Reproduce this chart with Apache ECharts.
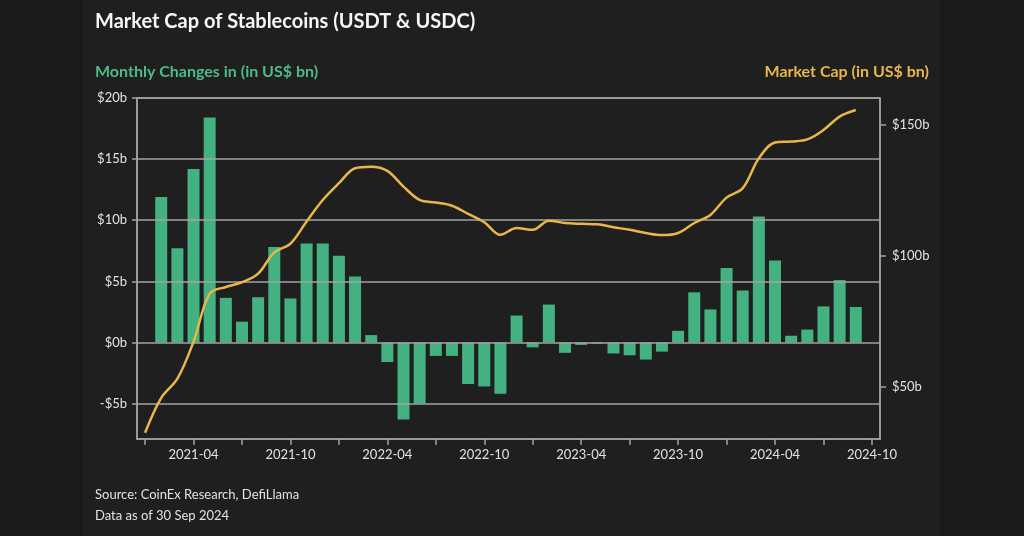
<!DOCTYPE html>
<html>
<head>
<meta charset="utf-8">
<script src="https://cdn.jsdelivr.net/npm/echarts@6/dist/echarts.min.js"></script>
<style>
html,body{margin:0;padding:0;background:#1a1a1a;}
#c{width:1024px;height:536px;}
</style>
</head>
<body>
<div id="c"></div>
<script>
// Months (line covers all; bars start at 2021-02)
var months = ['2021-01','2021-02','2021-03','2021-04','2021-05','2021-06','2021-07','2021-08','2021-09','2021-10','2021-11','2021-12',
  '2022-01','2022-02','2022-03','2022-04','2022-05','2022-06','2022-07','2022-08','2022-09','2022-10','2022-11','2022-12',
  '2023-01','2023-02','2023-03','2023-04','2023-05','2023-06','2023-07','2023-08','2023-09','2023-10','2023-11','2023-12',
  '2024-01','2024-02','2024-03','2024-04','2024-05','2024-06','2024-07','2024-08','2024-09'];
// Monthly changes (US$ bn)
var monthlyChange = [null,11.9,7.7,14.2,18.4,3.65,1.7,3.7,7.8,3.6,8.1,8.1,
  7.1,5.4,0.6,-1.6,-6.3,-5.0,-1.1,-1.1,-3.4,-3.6,-4.2,2.2,
  -0.4,3.1,-0.85,-0.2,-0.1,-0.9,-1.05,-1.4,-0.75,0.95,4.1,2.7,
  6.1,4.25,10.3,6.7,0.55,1.05,2.95,5.1,2.9];
// Market cap (US$ bn)
var marketCap = [32.6,45.9,53.2,67.3,85.7,88.2,90.0,93.3,101.4,104.7,113.2,121.4,
  127.8,133.5,134.1,132.5,126.5,121.4,120.4,119.2,116.1,112.9,108.1,110.7,
  110.0,113.5,112.6,112.3,112.1,111.0,110.0,108.8,108.0,108.8,112.6,115.7,
  122.3,125.9,137.3,143.3,143.7,144.5,148.1,153.2,155.7];
// Tick labels
var xTickMonths = ['2021-01','2021-04','2021-07','2021-10','2022-01','2022-04','2022-07','2022-10','2023-01','2023-04','2023-07','2023-10','2024-01','2024-04','2024-07','2024-10'];
var xLabelMonths = ['2021-04','2021-10','2022-04','2022-10','2023-04','2023-10','2024-04','2024-10'];
var leftTicks = [-5,0,5,10,15,20];
var rightTicks = [50,100,150];

function mIdx(s){var p=s.split('-');return (+p[0]-2021)*12+(+p[1]-1);}
function idxLabel(v){var y=2021+Math.floor(v/12);var m=v%12+1;return y+'-'+(m<10?'0'+m:m);}

var barData = [], lineData = [];
months.forEach(function(m,i){
  var x = mIdx(m);
  if (monthlyChange[i] !== null) barData.push([x, monthlyChange[i]]);
  lineData.push([x, marketCap[i]]);
});

var gridColor = '#a3a3a3';
var textColor = '#e2e2e2';
var FONT = 'Lato';

var chart = echarts.init(document.getElementById('c'));
chart.setOption({
  backgroundColor: '#1a1a1a',
  animation: false,
  graphic: [
    {type:'rect', shape:{x:83,y:0,width:857,height:536}, style:{fill:'#1f1f1f'}, z:-10, silent:true},
    {type:'text', left:95, top:12, style:{text:'Market Cap of Stablecoins (USDT & USDC)', fill:'#f6f6f6', font:'bold 20px '+FONT}},
    {type:'text', left:95, top:64, style:{text:'Monthly Changes in (in US$ bn)', fill:'#4dba88', font:'bold 16px '+FONT}},
    {type:'text', right:95, top:64, style:{text:'Market Cap (in US$ bn)', fill:'#e8b74a', font:'bold 16px '+FONT}},
    {type:'text', left:95, top:488, style:{text:'Source: CoinEx Research, DefiLlama', fill:textColor, font:'13px '+FONT}},
    {type:'text', left:95, top:509, style:{text:'Data as of 30 Sep 2024', fill:textColor, font:'13px '+FONT}}
  ],
  grid: {left:137, right:144, top:98, bottom:97, show:true, borderColor:gridColor, borderWidth:1.5, backgroundColor:'transparent'},
  xAxis: {
    type:'value', min:-0.5, max:45.5, position:'bottom',
    axisLine:{show:true, onZero:false, lineStyle:{color:gridColor, width:1.5}},
    axisTick:{show:true, length:6, lineStyle:{color:gridColor, width:1.5}, customValues: xTickMonths.map(mIdx)},
    axisLabel:{show:true, margin:9, color:textColor, fontSize:13, fontFamily:FONT,
      customValues: xLabelMonths.map(mIdx), formatter:function(v){return idxLabel(Math.round(v));}},
    splitLine:{show:false}
  },
  yAxis: [
    {
      type:'value', min:-7.9, max:20, position:'left',
      axisLine:{show:true, onZero:false, lineStyle:{color:gridColor, width:1.5}},
      axisTick:{show:true, length:5, lineStyle:{color:gridColor, width:1.5}, customValues:leftTicks},
      axisLabel:{color:textColor, fontSize:13, fontFamily:FONT, margin:10, customValues:leftTicks,
        formatter:function(v){return (v<0?'-$'+(-v):'$'+v)+'b';}},
      splitLine:{show:false}
    },
    {
      type:'value', min:30.2, max:160.3, position:'right',
      axisLine:{show:true, onZero:false, lineStyle:{color:gridColor, width:1.5}},
      axisTick:{show:true, length:6, lineStyle:{color:gridColor, width:1.5}, customValues:rightTicks},
      axisLabel:{color:textColor, fontSize:13, fontFamily:FONT, margin:12, customValues:rightTicks,
        formatter:function(v){return '$'+v+'b';}},
      splitLine:{show:false}
    }
  ],
  series: [
    {
      type:'bar', yAxisIndex:0, data:barData, barWidth:12,
      itemStyle:{color:'#44b181'},
      markLine:{silent:true, symbol:'none', label:{show:false},
        lineStyle:{color:gridColor, type:'solid', width:1.5},
        data: leftTicks.map(function(v){return {yAxis:v};})},
      z:2
    },
    {
      type:'line', yAxisIndex:1, data:lineData, smooth:0.35, showSymbol:false,
      lineStyle:{color:'#e8b64a', width:2.5}, z:5
    }
  ]
});
</script>
</body>
</html>
